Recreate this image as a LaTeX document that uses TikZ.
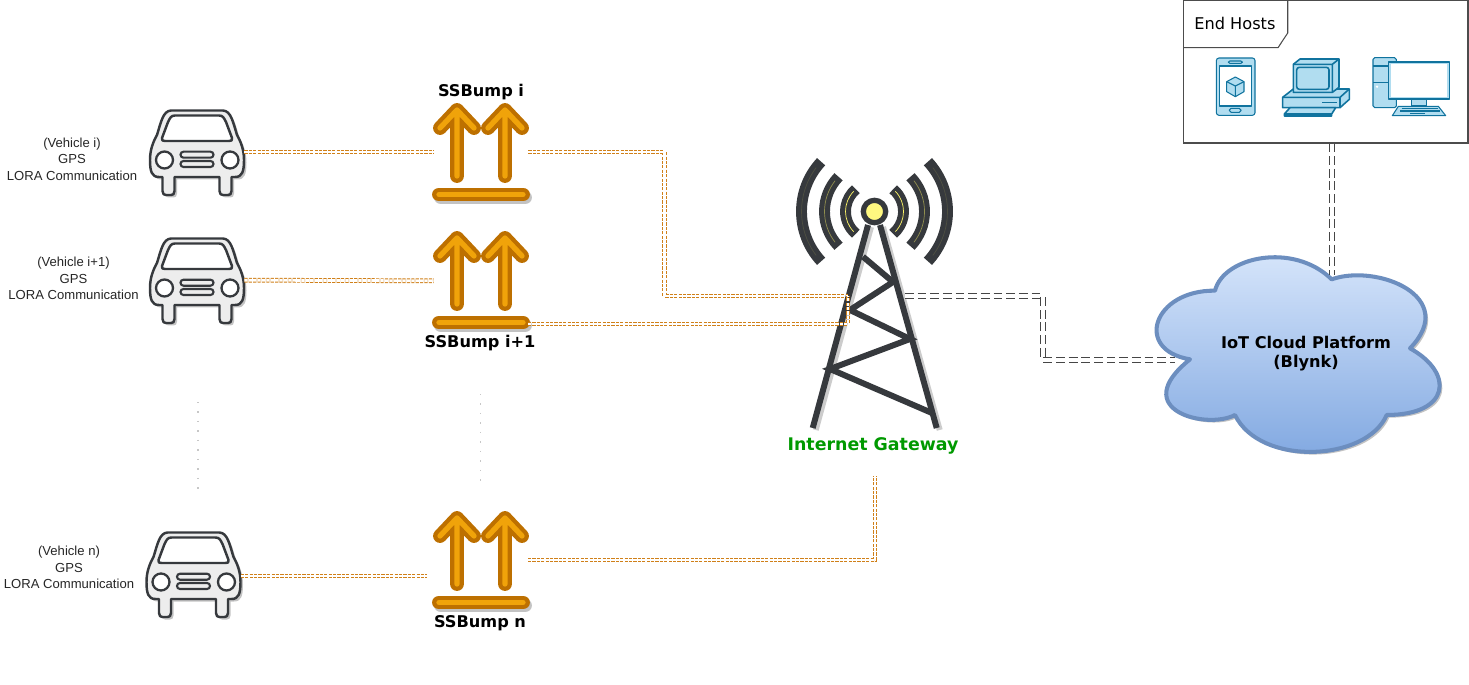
\documentclass[tikz,border=0pt]{standalone}
\usepackage{fontspec}
\setmainfont{Liberation Sans}
\newfontfamily\labelfont{DejaVu Sans}
\usetikzlibrary{positioning,calc}
\definecolor{TowerGray}{RGB}{54, 57, 61}
\definecolor{BumpDark}{RGB}{189, 112, 0}
\definecolor{BumpLight}{RGB}{240, 163, 10}
\definecolor{LinkOrange}{RGB}{208, 128, 25}
\definecolor{LinkGray}{RGB}{70, 70, 70}
\definecolor{IconBlue}{RGB}{16, 115, 158}
\definecolor{IconFill}{RGB}{177, 221, 240}
\definecolor{CloudEdge}{RGB}{108, 142, 191}
\definecolor{CloudTop}{RGB}{218, 232, 252}
\definecolor{CloudBottom}{RGB}{126, 166, 224}
\definecolor{GateGreen}{RGB}{0, 153, 0}
\definecolor{DropGray}{RGB}{195, 195, 195}

\newcommand{\carbody}{(-26,-41.5) -- (26,-41.5) .. controls (34,-41) and (36,-30) .. (40,-17) .. controls (44,-10) and (47,-2) .. (47,8) .. controls (47,20) and (45,25) .. (38,25) -- (34.5,25) -- (34.5,39) .. controls (34.5,42) and (33,43) .. (31,43) -- (26,43) .. controls (24,43) and (22.5,42) .. (22.5,39) -- (22.5,25) -- (-22.5,25) -- (-22.5,39) .. controls (-22.5,42) and (-24,43) .. (-26,43) -- (-31,43) .. controls (-33,43) and (-34.5,42) .. (-34.5,39) -- (-34.5,25) -- (-38,25) .. controls (-45,25) and (-47,20) .. (-47,8) .. controls (-47,-2) and (-44,-10) .. (-40,-17) .. controls (-36,-30) and (-34,-41) .. (-26,-41.5) -- cycle}
\newcommand{\cloudbody}{(555,152) .. controls (580,50) and (790,5) .. (905,118) .. controls (1040,70) and (1290,170) .. (1140,325) .. controls (1275,400) and (1260,525) .. (1070,525) .. controls (1010,665) and (690,680) .. (615,525) .. controls (530,570) and (290,510) .. (480,358) .. controls (310,330) and (370,150) .. (555,152) -- cycle}

\tikzset{
  vehicle/.style={font=\fontsize{7.45}{9.4}\selectfont, align=center, text=black!85},
  bumplabel/.style={font=\labelfont\bfseries\fontsize{9.2}{10.8}\selectfont, align=center},
  link/.style={draw=LinkOrange, line width=0.55pt, double, double distance=1.6pt, dash pattern=on 1.8pt off 0.7pt},
  uplink/.style={draw=LinkGray, line width=0.55pt, double, double distance=1.8pt, dash pattern=on 5pt off 2.2pt},
  dots/.style={draw=black!22, line width=0.8pt, dash pattern=on 0.8pt off 4.6pt},
  holder/.style={inner sep=0pt, minimum width=#1*0.02cm, minimum height=1.7cm},
  icon/.style={draw=IconBlue, fill=IconFill, line width=0.6pt, line join=round},
  carpic/.pic={
    \fill[DropGray, shift={(2.5,2.5)}] \carbody;
    \draw[TowerGray, fill=black!7, line width=1.4pt, line join=round] \carbody;
    \draw[TowerGray, fill=white, line width=1.4pt, line join=round] (-22,-36.5) -- (22,-36.5) .. controls (26,-36.5) and (27,-34) .. (29,-30) -- (35,-14) .. controls (36,-11.5) and (34,-11) .. (32,-11) -- (-32,-11) .. controls (-34,-11) and (-36,-11.5) .. (-35,-14) -- (-29,-30) .. controls (-27,-34) and (-26,-36.5) .. (-22,-36.5) -- cycle;
    \foreach \x in {-32.5, 33} \draw[TowerGray, fill=white, line width=1.3pt] (\x,8) circle[radius=8.5];
    \foreach \y in {-0.3, 9} \draw[TowerGray, fill=black!7, line width=1.2pt, rounded corners=1.7pt] (-16.5,\y) rectangle (16.5,\y+6);
  },
  bumppic/.pic={
    \draw[DropGray, line width=7.9pt, line cap=round] (-40,45.5) -- (44,45.5);
    % Two arrows and the bar below them
    \foreach \w/\c in {7.9pt/BumpDark, 3pt/BumpLight} {
      \draw[\c, line width=\w, line cap=round, line join=round] (-24,24) -- (-24,-42) (-41,-24) -- (-24,-42) -- (-7,-24);
      \draw[\c, line width=\w, line cap=round, line join=round] (24,24) -- (24,-42) (7,-24) -- (24,-42) -- (41,-24);
      \draw[\c, line width=\w, line cap=round] (-42,42.5) -- (42,42.5);
    }
  },
}

\begin{document}
\begin{tikzpicture}[x=0.02cm, y=-0.02cm]
  \useasboundingbox (0,0) rectangle (1469,685);

  % Vehicles
  \node[holder=94] (carI) at (197,152) {};
  \node[holder=94] (carII) at (197,280) {};
  \node[holder=94] (carN) at (193.5,576) {};
  \pic at (197,152) {carpic};
  \pic at (197,280) {carpic};
  \pic at (193.5,574) {carpic};
  \node[vehicle] (textI) at (72,159) {(Vehicle i)\\GPS\\LORA Communication};
  \node[vehicle] (textII) at (73.5,278.5) {(Vehicle i+1)\\GPS\\LORA Communication};
  \node[vehicle] (textN) at (69,567.5) {(Vehicle n)\\GPS\\LORA Communication};

  % SSBumps
  \node[holder=94] (bumpI) at (481,152) {};
  \node[holder=94] (bumpII) at (481,281) {};
  \coordinate (bumpIIout) at (528,324);
  \coordinate (bumpNin) at (427,576);
  \coordinate (bumpNout) at (528,560);
  \pic at (481,152) {bumppic};
  \pic at (481,280) {bumppic};
  \pic at (481,560) {bumppic};
  \node[bumplabel] (labelI) at (481,92.5) {SSBump i};
  \node[bumplabel] (labelII) at (480,343) {SSBump i+1};
  \node[bumplabel] (labelN) at (480,623) {SSBump n};

  % Dotted gaps
  \coordinate (gapA) at (198,402);
  \coordinate (gapB) at (198,490);
  \coordinate (gapC) at (480.5,394);
  \coordinate (gapD) at (480.5,482);
  \draw[dots] (gapA) -- (gapB);
  \draw[dots] (gapC) -- (gapD);

  % Tower
  \coordinate (mast) at (874.5,211.5);
  \draw[black!20, line width=3.4pt, shift={(3,2)}] (880,225) -- (936.7,428) (868,225) -- (812.7,428);
  \draw[TowerGray, line width=3.4pt] (868,225) -- (812.7,428) (880,225) -- (936.7,428);
  \draw[TowerGray, line width=3.4pt, line join=miter] (863,256.7) -- (893,282) -- (850,310) -- (910,339) -- (830,369) -- (932,413);
  \draw[TowerGray, fill=yellow!50, line width=3pt] (mast) circle[radius=11.2];
  \foreach \r/\a/\o in {29/50/1, 50/44/0.45, 73/43/0.12} {
    \draw[TowerGray, line width=6.2pt] ($(mast)+(180-\a:\r)$) arc[start angle=180-\a, end angle=180+\a, radius=\r];
    \draw[TowerGray, line width=6.2pt] ($(mast)+(-\a:\r)$) arc[start angle=-\a, end angle=\a, radius=\r];
    \draw[yellow!60, line width=0.4pt, opacity=\o] ($(mast)+(180-\a+6:\r)$) arc[start angle=180-\a+6, end angle=180+\a-6, radius=\r];
    \draw[yellow!60, line width=0.4pt, opacity=\o] ($(mast)+(-\a+6:\r)$) arc[start angle=-\a+6, end angle=\a-6, radius=\r];
  }
  \node[bumplabel, font=\labelfont\bfseries\fontsize{9.9}{11}\selectfont, text=GateGreen] (gateLabel) at (873,445.5) {Internet Gateway};

  % Links to the gateway
  \coordinate (gateA) at (848,296);
  \coordinate (gateB) at (848,324);
  \coordinate (gateC) at (875,476);
  \draw[link] (carI) -- (bumpI);
  \draw[link] (carII) -- (bumpII);
  \draw[link] (carN.east) -- (bumpNin);
  \draw[link] (bumpI.east) -- ++(136,0) |- (gateA);
  \draw[link] (bumpIIout) -- (gateB) -- (gateA);
  \draw[link] (bumpNout) -| (gateC);

  % Cloud
  \begin{scope}[shift={(1030,240)}, scale=1/3]
    \fill[DropGray, shift={(8,8)}] \cloudbody;
    \shade[top color=CloudTop, bottom color=CloudBottom, draw=CloudEdge, line width=2.3pt, line join=round] \cloudbody;
  \end{scope}
  \node[bumplabel] (cloudLabel) at (1306,353.5) {IoT Cloud Platform\\(Blynk)};

  % End hosts frame
  \node[draw=black!70, line width=0.6pt, inner sep=0pt, minimum width=5.7cm, minimum height=2.86cm] (hosts) at (1325.5,71.5) {};
  \coordinate (tabA) at (1287.7,0);
  \coordinate (tabB) at (1183,47.7);
  \draw[black!70, line width=0.6pt] (tabA) -- (1287.7,33) -- (1278,47.7) -- (tabB);
  \node[font=\labelfont\fontsize{9.2}{11}\selectfont, anchor=west, inner sep=0pt] (hostsLabel) at (1194,23.5) {End Hosts};

  % Host icons
  \begin{scope}[shift={(1175,0)}, scale=1/3]
    % Phone
    \draw[icon, rounded corners=1.5pt] (124,174) rectangle (240,346);
    \draw[icon, fill=white] (133,198) rectangle (230,318);
    \draw[icon, rounded corners=0.8pt] (160,183) rectangle (202,190);
    \draw[icon, rounded corners=1pt] (163,325) rectangle (198,337);
    \draw[icon] (181,231) -- (207,245) -- (207,275) -- (181,290) -- (155,275) -- (155,245) -- cycle;
    \draw[icon, fill=none] (155,245) -- (181,258) -- (207,245) (181,258) -- (181,290);
    % Old computer
    \draw[icon, line width=0.9pt] (323,292) -- (355,267) -- (523,267) -- (523,298) -- (495,323) -- (323,323) -- cycle;
    \draw[icon, line width=0.9pt, fill=none] (323,292) -- (495,292) -- (523,267) (495,292) -- (495,323);
    \draw[IconBlue, line width=0.9pt] (442,308) -- (485,308);
    \draw[icon, line width=0.9pt] (355,193) -- (375,177) -- (492,177) -- (492,262) -- (472,277) -- (355,277) -- cycle;
    \draw[icon, line width=0.9pt, fill=none] (355,193) -- (472,193) -- (492,177) (472,193) -- (472,277);
    \draw[icon, line width=0.9pt, rounded corners=1.5pt] (365,202) rectangle (462,268);
    \draw[icon, line width=0.9pt] (345,323) -- (482,323) -- (470,342) -- (470,348) -- (328,348) -- (328,342) -- cycle;
    \draw[icon, line width=0.9pt, fill=none] (328,342) -- (470,342);
    % Desktop
    \draw[icon, rounded corners=1pt] (594,173) rectangle (664,323);
    \draw[icon, fill=none] (594,198) -- (664,198) (594,247) -- (640,247);
    \fill[white] (606,260) circle[radius=4];
    \draw[icon] (710,297) rectangle (755,318);
    \draw[icon] (640,186) rectangle (823,297);
    \draw[icon, fill=white, draw=none] (648,192) rectangle (817,290);
    \draw[icon] (670,319) -- (790,319) -- (812,347) -- (652,347) -- cycle;
    \foreach \y/\a/\b in {326/680/790, 333/675/795, 340/705/750} \draw[IconBlue, line width=0.7pt] (\a,\y) -- (\b,\y);
  \end{scope}

  % Links to the cloud
  \coordinate (gateOut) at (905,296);
  \coordinate (cloudWest) at (1175,360);
  \coordinate (cloudTop) at (1332,275);
  \draw[uplink] (gateOut) -- ++(138,0) |- (cloudWest);
  \draw[uplink] (hosts.south -| cloudTop) -- (cloudTop);
\end{tikzpicture}
\end{document}
